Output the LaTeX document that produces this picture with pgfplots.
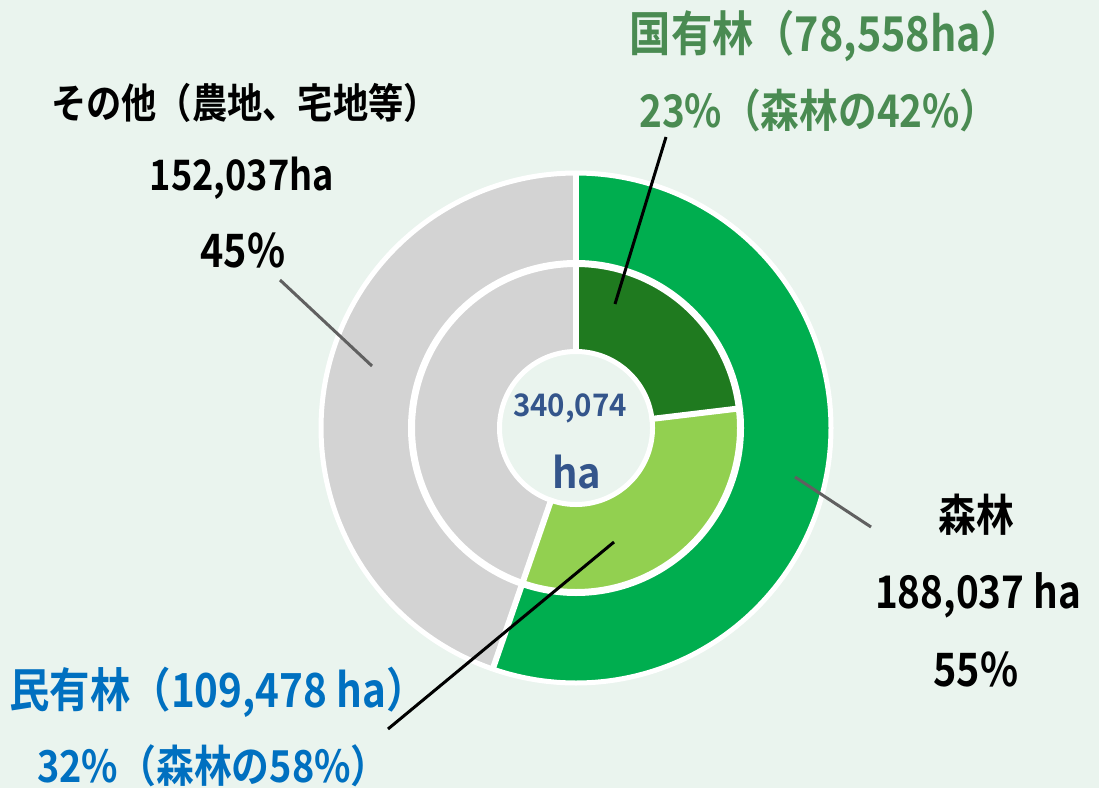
\documentclass[border=0pt]{standalone}
\usepackage{pgfplots}
\pgfplotsset{compat=1.18}
\usepackage{fontspec}
\setmainfont{Noto Sans CJK JP}[UprightFont=* Bold, FakeStretch=0.86]
\newfontfamily\cen{Noto Sans CJK JP}[UprightFont=* Bold, FakeStretch=0.95]
\definecolor{bg}{HTML}{EAF4EE}
\definecolor{cF}{HTML}{00AE4F}
\definecolor{cN}{HTML}{1F7A1F}
\definecolor{cP}{HTML}{92D050}
\definecolor{cO}{HTML}{D3D3D3}
\definecolor{tG}{HTML}{4A8B52}
\definecolor{tB}{HTML}{0070C0}
\definecolor{tC}{HTML}{34558B}
\definecolor{ln}{HTML}{606060}
% values in thousand ha
\def\total{340.074}
\def\forest{188.037}
\def\national{78.558}
\def\private{109.478}
\def\other{152.037}
\def\cx{576}
\def\cy{428}
\pgfmathsetmacro\aF{90-360*(\forest/\total)}
\pgfmathsetmacro\aN{90-360*(\national/\total)}
\pgfmathsetmacro\aO{\aF+360}
\begin{document}
\begin{tikzpicture}
\begin{axis}[scale only axis, width=1099pt, height=788pt,
  xmin=0, xmax=1099, ymin=0, ymax=788, y dir=reverse,
  hide axis, clip=false]
\addplot[fill=bg, draw=none] coordinates {(0,0) (1099,0) (1099,788) (0,788)} -- cycle;
% outer ring
\addplot[draw=cF, line width=90.5pt, domain=\aF:90, samples=161, variable=\t] ({\cx+209.75*cos(\t)},{\cy-209.75*sin(\t)});
\addplot[draw=cO, line width=90.5pt, domain=90:\aO, samples=161, variable=\t] ({\cx+209.75*cos(\t)},{\cy-209.75*sin(\t)});
% inner ring
\addplot[draw=cN, line width=88pt, domain=\aN:90, samples=81, variable=\t] ({\cx+120.5*cos(\t)},{\cy-120.5*sin(\t)});
\addplot[draw=cP, line width=88pt, domain=\aF:\aN, samples=101, variable=\t] ({\cx+120.5*cos(\t)},{\cy-120.5*sin(\t)});
\addplot[draw=cO, line width=88pt, domain=90:\aO, samples=161, variable=\t] ({\cx+120.5*cos(\t)},{\cy-120.5*sin(\t)});
% white separators
\addplot[white, line width=5pt, domain=0:360, samples=241, variable=\t] ({\cx+255*cos(\t)},{\cy-255*sin(\t)}) -- cycle;
\addplot[white, line width=7pt, domain=0:360, samples=241, variable=\t] ({\cx+164.5*cos(\t)},{\cy-164.5*sin(\t)}) -- cycle;
\addplot[white, line width=5pt, domain=0:360, samples=181, variable=\t] ({\cx+76.5*cos(\t)},{\cy-76.5*sin(\t)}) -- cycle;
\addplot[white, line width=6pt, domain=74:257, samples=2, variable=\r] ({\cx+\r*cos(90)},{\cy-\r*sin(90)});
\addplot[white, line width=6pt, domain=74:257, samples=2, variable=\r] ({\cx+\r*cos(\aF)},{\cy-\r*sin(\aF)});
\addplot[white, line width=6pt, domain=74:166, samples=2, variable=\r] ({\cx+\r*cos(\aN)},{\cy-\r*sin(\aN)});
% leader lines
\addplot[black, line width=3pt] coordinates {(666,137) (615,304)};
\addplot[black, line width=3pt] coordinates {(388,729) (614,542)};
\addplot[ln, line width=3pt] coordinates {(280,280) (372,366)};
\addplot[ln, line width=3pt] coordinates {(795,477) (871,527)};
% labels
\node[anchor=base, text=tG, font=\fontsize{48}{48}\selectfont] at (axis cs:826,52) {国有林（78,558ha）};
\node[anchor=base, text=tG, font=\fontsize{45}{45}\selectfont] at (axis cs:819,128) {23\%（森林の42\%）};
\node[anchor=base, text=black, font=\fontsize{41}{41}\selectfont] at (axis cs:245,119) {その他（農地、宅地等）};
\node[anchor=base, text=black, font=\fontsize{42}{42}\selectfont] at (axis cs:242,190) {152,037ha};
\node[anchor=base, text=black, font=\fontsize{46}{46}\selectfont] at (axis cs:243,267) {45\%};
\node[anchor=base, text=black, font=\fontsize{44}{44}\selectfont] at (axis cs:976,531) {森林};
\node[anchor=base, text=black, font=\fontsize{45}{45}\selectfont] at (axis cs:978,608) {188,037 ha};
\node[anchor=base, text=black, font=\fontsize{46}{46}\selectfont] at (axis cs:976,686) {55\%};
\node[anchor=base, text=tB, font=\fontsize{47}{47}\selectfont] at (axis cs:218,707) {民有林（109,478 ha）};
\node[anchor=base, text=tB, font=\fontsize{44}{44}\selectfont] at (axis cs:213,782) {32\%（森林の58\%）};
\node[anchor=base, text=tC, font=\cen\fontsize{31}{31}\selectfont] at (axis cs:570,416) {340,074};
\node[anchor=base, text=tC, font=\cen\fontsize{42}{42}\selectfont] at (axis cs:577,488) {ha};
\end{axis}
\end{tikzpicture}
\end{document}
